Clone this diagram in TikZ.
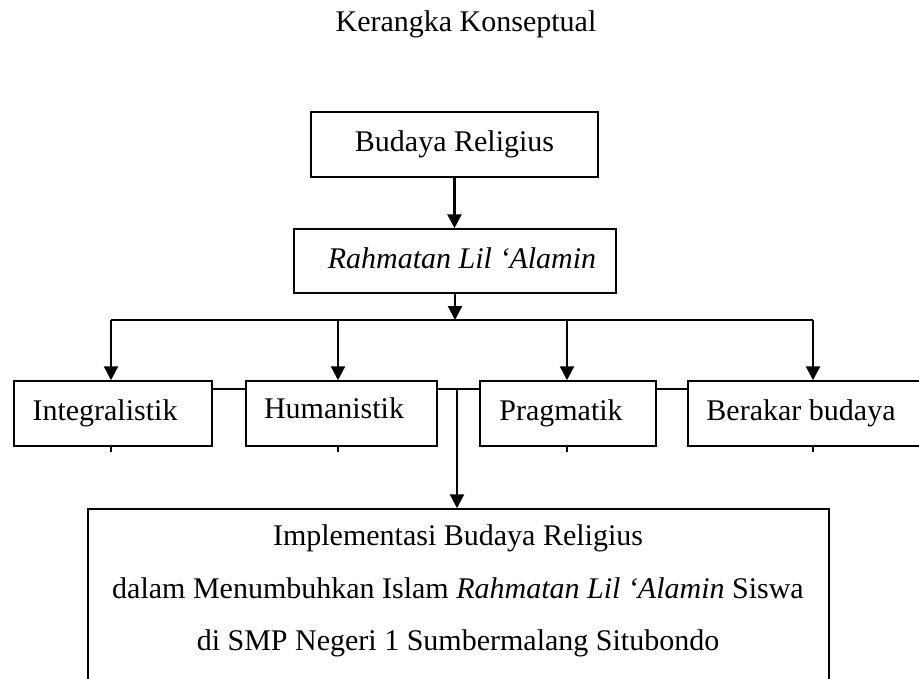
\documentclass[tikz,border=0pt]{standalone}
\usepackage{fontspec}
\setmainfont{Liberation Serif}
\usetikzlibrary{arrows.meta}
\begin{document}
\begin{tikzpicture}[x=0.4pt,y=-0.4pt,
  pbox/.style={draw=black, line width=0.6pt, fill=white, inner sep=0pt,
    text height=8.4pt, text depth=2.6pt, font=\fontsize{12}{14}\selectfont},
  plain/.style={inner sep=0pt, font=\fontsize{12}{14}\selectfont},
  arr/.style={line width=0.9pt, -{Triangle[width=5.6pt,length=5.6pt]}},
  conn/.style={line width=0.55pt}]
\path[use as bounding box, clip] (0,0) rectangle (919,679);
\fill[white] (0,0) rectangle (919,679);

\node[plain, anchor=base] (title) at (466,32) {Kerangka Konseptual};

\node[pbox, minimum width=114.8pt, minimum height=26pt] (b1) at (454.5,144.5) {Budaya Religius};
\node[pbox, minimum width=128.8pt, minimum height=25.6pt] (b2) at (455,261) {\hspace*{5.6pt}\textit{Rahmatan Lil ‘Alamin}};

\node[pbox, minimum width=79.2pt, minimum height=26pt] (int) at (113,413.5) {Integralistik\hspace*{6.4pt}};
\node[pbox, minimum width=76.4pt, minimum height=26pt] (hum) at (341.5,413.5) {\raisebox{0.8pt}{Humanistik}\hspace*{6pt}};
\node[pbox, minimum width=70.4pt, minimum height=26pt] (pra) at (568,413.5) {Pragmatik\hspace*{5.6pt}};
\node[pbox, minimum width=93.2pt, minimum height=26pt] (ber) at (804.5,413.5) {Berakar budaya\hspace*{2.8pt}};

\node[pbox, minimum width=296.4pt, minimum height=76.4pt] (impl) at (458.5,604.5) {};
\node[plain, anchor=base] (t1) at (458,545) {Implementasi Budaya Religius};
\node[plain, anchor=base] (t2) at (458,598) {dalam Menumbuhkan Islam \textit{Rahmatan Lil ‘Alamin} Siswa};
\node[plain, anchor=base] (t3) at (458,650) {di SMP Negeri 1 Sumbermalang Situbondo};

% bus coordinates
\coordinate (a1) at (111,320);
\coordinate (a2) at (338,320);
\coordinate (a3) at (567,320);
\coordinate (a4) at (813,320);
\coordinate (mid) at (457,389);

% top arrows
\draw[arr, line width=1.1pt] (b1.south) -- (b1.south |- b2.north);
\draw[arr] (b2.south) -- (b2.south |- a1);
\draw[conn] (a1) -- (a4);
\draw[arr] (a1) -- (a1 |- int.north);
\draw[arr] (a2) -- (a2 |- hum.north);
\draw[arr] (a3) -- (a3 |- pra.north);
\draw[arr] (a4) -- (a4 |- ber.north);

% small stubs below boxes
\draw[conn] (a1 |- int.south) -- ++(0,5);
\draw[conn] (a2 |- hum.south) -- ++(0,5);
\draw[conn] (a3 |- pra.south) -- ++(0,5);
\draw[conn] (a4 |- ber.south) -- ++(0,5);

% connecting line between boxes
\draw[conn] (int.east |- mid) -- (hum.west |- mid);
\draw[conn] (hum.east |- mid) -- (pra.west |- mid);
\draw[conn] (pra.east |- mid) -- (ber.west |- mid);

% central arrow to implementation box
\draw[arr] (mid) -- (mid |- impl.north);
\end{tikzpicture}
\end{document}
